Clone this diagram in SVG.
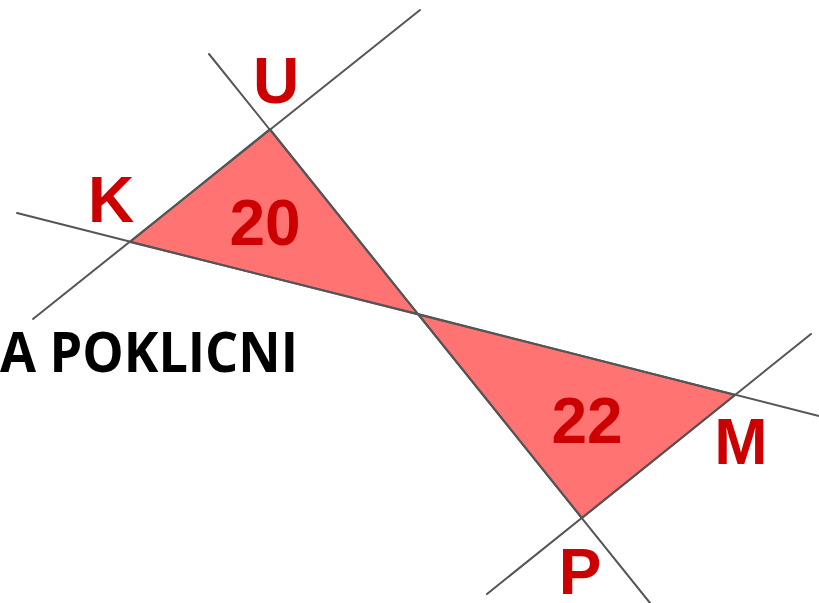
<svg xmlns="http://www.w3.org/2000/svg" width="819" height="603" viewBox="0 0 819 603">
<style>
.ln{stroke:#555;stroke-width:2;fill:none;stroke-linecap:round}
.tri{fill:#ff7373;stroke:#555;stroke-width:2;stroke-linejoin:round}
.lbl{font-family:"Liberation Sans",Arial,sans-serif;font-weight:bold;font-size:64px;fill:#cc0000;text-anchor:middle}
.title{font-family:"Open Sans","Liberation Sans",sans-serif;font-weight:bold;font-size:55px;fill:#000}
</style>
<rect width="819" height="603" fill="#fff"/>
<g id="triangles">
<polygon id="t1" class="tri" points="130,242 270,129 418,314"/>
<polygon id="t2" class="tri" points="418,314 735,395 582,518"/>
</g>
<g id="connectors">
<line class="ln" x1="17" y1="213" x2="819" y2="416"/>
<line class="ln" x1="209" y1="54" x2="650" y2="603"/>
<line class="ln" x1="33" y1="319" x2="420" y2="10"/>
<line class="ln" x1="487" y1="594" x2="811" y2="334"/>
</g>
<g id="labels">
<text class="lbl" x="276" y="103">U</text>
<text class="lbl" x="111" y="222">K</text>
<text class="lbl" x="265" y="245">20</text>
<text class="lbl" x="587" y="443">22</text>
<text class="lbl" x="741" y="464">M</text>
<text class="lbl" x="580" y="594">P</text>
</g>
<text class="title" x="0" y="372" textLength="298" lengthAdjust="spacingAndGlyphs">A POKLICNI</text>
</svg>
